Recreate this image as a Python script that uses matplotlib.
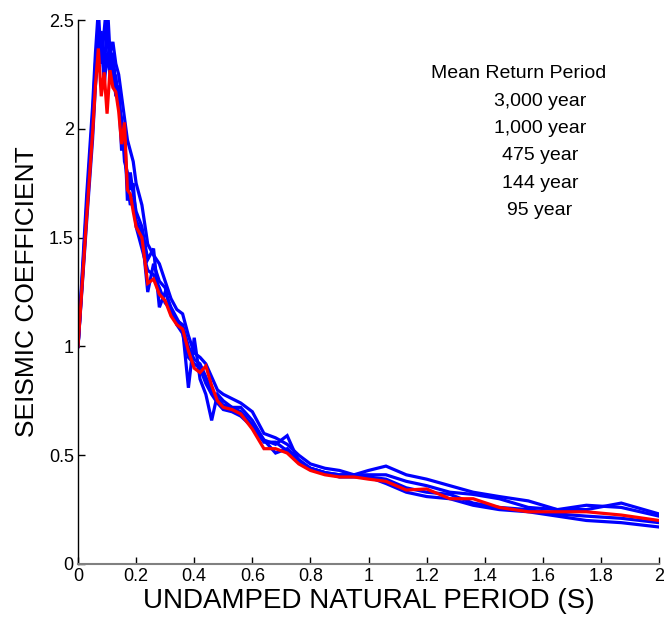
"""Seismic coefficient response spectra for several mean return periods."""

import matplotlib
matplotlib.use("Agg")
import matplotlib.pyplot as plt

plt.rcParams["font.family"] = ["Liberation Sans", "DejaVu Sans"]

# natural period grid (s)
period = [
    0.00, 0.03, 0.05, 0.06, 0.07, 0.08, 0.09, 0.10, 0.11, 0.12,
    0.13, 0.14, 0.15, 0.16, 0.17, 0.18, 0.19, 0.20, 0.22, 0.24,
    0.26, 0.28, 0.30, 0.32, 0.34, 0.36, 0.38, 0.40, 0.42, 0.44,
    0.46, 0.48, 0.50, 0.53, 0.56, 0.60, 0.64, 0.68, 0.72, 0.76,
    0.80, 0.85, 0.90, 0.95, 1.00, 1.06, 1.13, 1.20, 1.28, 1.36,
    1.45, 1.55, 1.65, 1.75, 1.87, 2.00,
]

blue_1 = [
    1.00, 1.70, 2.10, 2.35, 2.55, 2.30, 2.45, 2.60, 2.35, 2.40,
    2.30, 2.25, 2.15, 2.05, 1.95, 1.90, 1.85, 1.75, 1.65, 1.47,
    1.42, 1.38, 1.30, 1.22, 1.17, 1.15, 1.05, 0.97, 0.95, 0.92,
    0.86, 0.80, 0.78, 0.76, 0.74, 0.70, 0.60, 0.58, 0.55, 0.50,
    0.46, 0.44, 0.43, 0.41, 0.43, 0.45, 0.41, 0.39, 0.36, 0.33,
    0.31, 0.29, 0.25, 0.25, 0.28, 0.23,
]
blue_2 = [
    1.00, 1.65, 2.05, 2.30, 2.45, 2.40, 2.25, 2.50, 2.28, 2.35,
    2.20, 2.15, 1.90, 2.00, 1.67, 1.80, 1.70, 1.62, 1.55, 1.40,
    1.45, 1.18, 1.25, 1.18, 1.13, 1.08, 0.81, 1.04, 0.85, 0.78,
    0.66, 0.78, 0.75, 0.72, 0.72, 0.66, 0.57, 0.55, 0.59, 0.47,
    0.44, 0.42, 0.41, 0.41, 0.41, 0.41, 0.38, 0.36, 0.33, 0.32,
    0.30, 0.26, 0.25, 0.27, 0.26, 0.22,
]
blue_3 = [
    1.00, 1.62, 2.00, 2.25, 2.40, 2.30, 2.35, 2.30, 2.40, 2.20,
    2.25, 2.10, 2.05, 1.85, 1.80, 1.72, 1.75, 1.58, 1.52, 1.25,
    1.38, 1.30, 1.27, 1.16, 1.12, 1.10, 1.00, 0.94, 0.92, 0.86,
    0.80, 0.76, 0.73, 0.72, 0.70, 0.64, 0.57, 0.51, 0.53, 0.48,
    0.44, 0.42, 0.40, 0.40, 0.40, 0.39, 0.35, 0.33, 0.32, 0.28,
    0.26, 0.25, 0.23, 0.22, 0.21, 0.19,
]
blue_4 = [
    1.00, 1.58, 1.95, 2.20, 2.35, 2.45, 2.20, 2.35, 2.25, 2.30,
    2.15, 2.20, 2.00, 1.90, 1.75, 1.65, 1.68, 1.55, 1.45, 1.35,
    1.33, 1.27, 1.20, 1.17, 1.10, 1.06, 0.95, 0.92, 0.90, 0.83,
    0.78, 0.74, 0.71, 0.70, 0.68, 0.63, 0.56, 0.56, 0.52, 0.47,
    0.44, 0.42, 0.41, 0.41, 0.40, 0.37, 0.33, 0.31, 0.30, 0.27,
    0.25, 0.24, 0.22, 0.20, 0.19, 0.17,
]
red = [
    1.00, 1.60, 1.98, 2.20, 2.37, 2.15, 2.26, 2.07, 2.27, 2.19,
    2.17, 2.08, 1.93, 2.03, 1.72, 1.70, 1.62, 1.55, 1.50, 1.29,
    1.31, 1.24, 1.21, 1.14, 1.10, 1.08, 0.98, 0.90, 0.88, 0.91,
    0.82, 0.75, 0.72, 0.71, 0.69, 0.62, 0.53, 0.53, 0.51, 0.46,
    0.43, 0.41, 0.40, 0.40, 0.39, 0.38, 0.34, 0.345, 0.30, 0.30,
    0.26, 0.24, 0.24, 0.24, 0.225, 0.20,
]

legend_title = "Mean Return Period"
return_periods = ["3,000 year", "1,000 year", "475 year", "144 year", "95 year"]

x_ticks = [0, 0.2, 0.4, 0.6, 0.8, 1, 1.2, 1.4, 1.6, 1.8, 2]
y_ticks = [0, 0.5, 1, 1.5, 2, 2.5]


def _tick_label(v):
    return f"{v:g}"


fig = plt.figure(figsize=(6.64, 6.18), dpi=100)
ax = fig.add_axes([0.1175, 0.0874, 0.875, 0.880])

for series in (blue_1, blue_2, blue_3, blue_4):
    ax.plot(period, series, color="#0000ff", linewidth=2.3, solid_joinstyle="miter")
ax.plot(period, red, color="#ff0000", linewidth=2.3, solid_joinstyle="miter")

ax.set_xlim(0, 2)
ax.set_ylim(0, 2.5)
ax.set_xticks(x_ticks)
ax.set_xticklabels([_tick_label(v) for v in x_ticks])
ax.set_yticks(y_ticks)
ax.set_yticklabels([_tick_label(v) for v in y_ticks])
ax.tick_params(direction="in", length=5, width=1, labelsize=13, pad=3)

ax.spines["top"].set_visible(False)
ax.spines["right"].set_visible(False)
ax.spines["left"].set_color("black")
ax.spines["bottom"].set_color("#808080")
ax.spines["left"].set_linewidth(1.0)
ax.spines["bottom"].set_linewidth(1.5)

ax.set_xlabel("UNDAMPED NATURAL PERIOD (S)", fontsize=20, labelpad=2)
ax.set_ylabel("SEISMIC COEFFICIENT", fontsize=19, labelpad=7)

ax.text(0.759, 0.9026, legend_title, transform=ax.transAxes, fontsize=14,
        ha="center", va="center")
for i, label in enumerate(return_periods):
    ax.text(0.795, 0.851 - i * 0.0504, label, transform=ax.transAxes,
            fontsize=14, ha="center", va="center")

fig.savefig("out.png", dpi=100)
plt.close(fig)
